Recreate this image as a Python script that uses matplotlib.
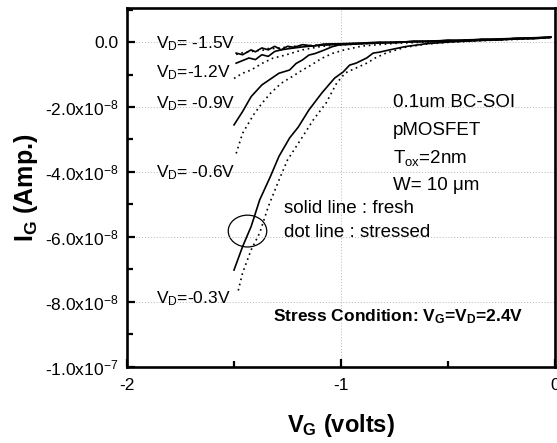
import matplotlib
matplotlib.use("Agg")
import matplotlib.pyplot as plt
from matplotlib.patches import Ellipse
from matplotlib.ticker import MultipleLocator, FixedLocator, FixedFormatter

plt.rcParams['font.family'] = ['Liberation Sans', 'DejaVu Sans']
plt.rcParams['mathtext.fontset'] = 'custom'
plt.rcParams['mathtext.rm'] = 'Liberation Sans'
plt.rcParams['mathtext.it'] = 'Liberation Sans:italic'
plt.rcParams['mathtext.bf'] = 'Liberation Sans:bold'

# gate current in units of 1e-8 A
# VD = -1.5 V (noisy, fresh and stressed nearly on top of each other)
vg_15 = [-1.49, -1.46, -1.42, -1.40, -1.37, -1.34, -1.31, -1.28, -1.25, -1.22, -1.18,
         -1.13, -1.08, -1.00, -0.90, -0.82, -0.74, -0.66, -0.58, -0.50, -0.42, -0.34,
         -0.26, -0.18, -0.10, -0.02]
ig_15_fresh = [-0.34, -0.39, -0.24, -0.30, -0.18, -0.24, -0.13, -0.24, -0.13, -0.16, -0.08,
               -0.12, -0.06, -0.05, -0.03, 0.00, -0.02, 0.03, 0.01, 0.06, 0.03, 0.09,
               0.07, 0.12, 0.10, 0.15]
ig_15_stress = [-0.38, -0.33, -0.30, -0.26, -0.26, -0.20, -0.20, -0.17, -0.16, -0.13, -0.12,
                -0.10, -0.09, -0.06, -0.04, -0.02, 0.00, 0.01, 0.03, 0.04, 0.06, 0.08,
                0.09, 0.11, 0.12, 0.14]

# VD = -1.2 V
vg_12 = [-1.49, -1.43, -1.40, -1.37, -1.34, -1.31, -1.28, -1.24, -1.18, -1.10, -1.00, -0.85,
         -0.65, -0.45, -0.25, -0.02]
ig_12_fresh = [-0.65, -0.49, -0.54, -0.39, -0.44, -0.29, -0.24, -0.20, -0.15, -0.10, -0.06,
               -0.03, 0.02, 0.06, 0.10, 0.15]
vg_12s = [-1.50, -1.46, -1.42, -1.37, -1.32, -1.26, -1.18, -1.09, -0.98, -0.85, -0.65, -0.45,
          -0.25, -0.02]
ig_12_stress = [-1.12, -0.96, -0.86, -0.66, -0.50, -0.40, -0.24, -0.13, -0.08, -0.04, 0.01,
                0.05, 0.09, 0.14]

# VD = -0.9 V
vg_09 = [-1.50, -1.46, -1.42, -1.37, -1.29, -1.24, -1.21, -1.18, -1.15, -1.12, -1.08, -1.04,
         -1.01, -0.90, -0.72, -0.50, -0.30, -0.02]
ig_09_fresh = [-2.55, -2.14, -1.68, -1.32, -0.96, -0.86, -0.66, -0.55, -0.40, -0.35, -0.25,
               -0.14, -0.09, -0.05, 0.00, 0.03, 0.07, 0.15]
vg_09s = [-1.49, -1.46, -1.41, -1.37, -1.33, -1.28, -1.23, -1.18, -1.14, -1.09, -1.04, -0.99,
          -0.90, -0.75, -0.55, -0.30, -0.02]
ig_09_stress = [-3.43, -2.81, -2.25, -1.89, -1.58, -1.27, -1.07, -0.86, -0.71, -0.50, -0.35,
                -0.25, -0.12, -0.04, 0.01, 0.06, 0.14]

# VD = -0.3 V
vg_03 = [-1.50, -1.46, -1.42, -1.38, -1.33, -1.29, -1.24, -1.20, -1.15, -1.09, -1.03, -0.99,
         -0.96, -0.93, -0.88, -0.85, -0.82, -0.78, -0.70, -0.60, -0.50, -0.35, -0.15, -0.02]
ig_03_fresh = [-7.02, -6.30, -5.68, -4.86, -4.14, -3.52, -2.95, -2.62, -2.09, -1.57, -1.11,
               -0.92, -0.71, -0.65, -0.49, -0.34, -0.31, -0.25, -0.14, -0.05, 0.00, 0.05,
               0.10, 0.15]
vg_03s = [-1.48, -1.46, -1.42, -1.38, -1.34, -1.29, -1.25, -1.19, -1.13, -1.07, -1.02, -0.98,
          -0.93, -0.88, -0.84, -0.79, -0.70, -0.60, -0.50, -0.35, -0.15, -0.02]
ig_03_stress = [-7.65, -7.11, -6.40, -5.88, -5.07, -4.25, -3.63, -3.02, -2.40, -1.88, -1.26,
                -0.95, -0.80, -0.65, -0.49, -0.34, -0.16, -0.06, -0.01, 0.04, 0.09, 0.14]

y_ticks = [0.0, -2.0, -4.0, -6.0, -8.0, -10.0]
y_labels = ['0.0', '-2.0x10$^{-8}$', '-4.0x10$^{-8}$', '-6.0x10$^{-8}$', '-8.0x10$^{-8}$',
            '-1.0x10$^{-7}$']
x_ticks = [-2, -1, 0]
x_labels = ['-2', '-1', '0']

vd_labels = ['V$_\\mathrm{D}$= -1.5V', 'V$_\\mathrm{D}$=-1.2V', 'V$_\\mathrm{D}$= -0.9V',
             'V$_\\mathrm{D}$= -0.6V', 'V$_\\mathrm{D}$=-0.3V']
vd_label_y = [-0.18, -1.08, -2.03, -4.15, -8.03]
info_lines = ['0.1um BC-SOI', 'pMOSFET', 'T$_\\mathrm{ox}$=2nm', 'W= 10 \u03bcm']
info_y = [-2.0, -2.86, -3.72, -4.55]

fig = plt.figure(figsize=(5.57, 4.43), dpi=100)
ax = fig.add_axes([0.228, 0.172, 0.7685, 0.81])

dot = (0, (1.0, 2.2))
pairs = [(vg_15, ig_15_fresh, vg_15, ig_15_stress),
         (vg_12, ig_12_fresh, vg_12s, ig_12_stress),
         (vg_09, ig_09_fresh, vg_09s, ig_09_stress),
         (vg_03, ig_03_fresh, vg_03s, ig_03_stress)]
for vf, f, vs, s in pairs:
    ax.plot(vs, s, color='black', lw=1.2, linestyle=dot)
    ax.plot(vf, f, color='black', lw=1.2)

ax.add_patch(Ellipse((-1.437, -5.82), 0.18, 0.98, fill=False, ec='black', lw=0.9))

ax.set_xlim(-2, 0)
ax.set_ylim(-10.0, 1.05)
ax.yaxis.set_major_locator(FixedLocator(y_ticks))
ax.yaxis.set_major_formatter(FixedFormatter(y_labels))
ax.yaxis.set_minor_locator(MultipleLocator(1.0))
ax.xaxis.set_major_locator(FixedLocator(x_ticks))
ax.xaxis.set_major_formatter(FixedFormatter(x_labels))
ax.xaxis.set_minor_locator(MultipleLocator(0.5))
ax.tick_params(which='both', direction='in', width=1.6, labelsize=12.5)
ax.tick_params(axis='y', pad=6)
ax.tick_params(axis='x', pad=8)
ax.tick_params(which='major', length=6)
ax.tick_params(which='minor', length=4)
for sp in ax.spines.values():
    sp.set_linewidth(1.9)
ax.grid(True, which='major', color='#b5b5b5', linestyle=(0, (1, 2)), lw=0.7)

ax.set_xlabel('V$_\\mathbf{G}$ (volts)', fontsize=17, fontweight='bold', labelpad=14)
ax.set_ylabel('I$_\\mathbf{G}$ (Amp.)', fontsize=18, fontweight='bold', labelpad=4)

for t, y in zip(vd_labels, vd_label_y):
    ax.text(-1.866, y, t, fontsize=12.5, va='baseline', ha='left')
for t, y in zip(info_lines, info_y):
    ax.text(-0.756, y, t, fontsize=13.5, va='baseline', ha='left')
ax.text(-1.268, -5.26, 'solid line : fresh', fontsize=13.5, va='baseline')
ax.text(-1.268, -6.0, 'dot line : stressed', fontsize=13.5, va='baseline')
ax.text(-1.319, -8.6, 'Stress Condition: V$_\\mathbf{G}$=V$_\\mathbf{D}$=2.4V',
        fontsize=12.5, fontweight='bold', va='baseline')

fig.savefig('out.png', dpi=100)
